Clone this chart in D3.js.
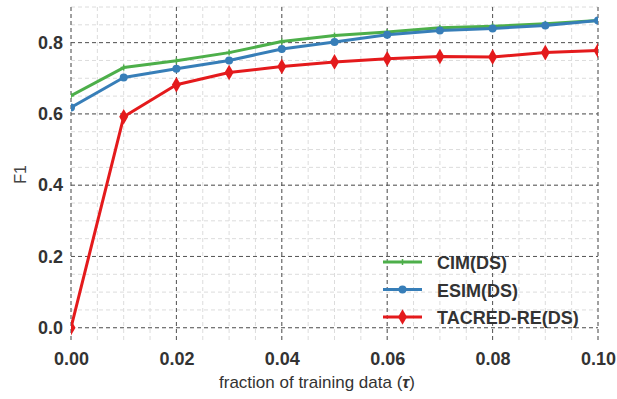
<!DOCTYPE html>
<html>
<head>
<meta charset="utf-8">
<script src="https://cdn.jsdelivr.net/npm/d3@7"></script>
<style>
  body { margin: 0; background: #fff; }
  text { font-family: "Liberation Sans", Arial, sans-serif; }
</style>
</head>
<body>
<svg id="chart" width="617" height="399"></svg>
<script>
const fractions = [0, 0.01, 0.02, 0.03, 0.04, 0.05, 0.06, 0.07, 0.08, 0.09, 0.10];
const cim = [0.651, 0.730, 0.749, 0.772, 0.803, 0.820, 0.830, 0.842, 0.846, 0.853, 0.862];
const esim = [0.618, 0.702, 0.727, 0.750, 0.782, 0.802, 0.822, 0.834, 0.840, 0.848, 0.862];
const tacred = [0.0, 0.592, 0.682, 0.716, 0.733, 0.746, 0.755, 0.761, 0.760, 0.772, 0.778];
const xTicks = [0, 0.02, 0.04, 0.06, 0.08, 0.10];
const yTicks = [0, 0.2, 0.4, 0.6, 0.8];

const series = [
  { name: 'CIM(DS)', values: cim, color: '#4daf4a', marker: 'plus' },
  { name: 'ESIM(DS)', values: esim, color: '#377eb8', marker: 'circle' },
  { name: 'TACRED-RE(DS)', values: tacred, color: '#e41a1c', marker: 'diamond' }
];

const margin = {top: 7, right: 19, bottom: 57, left: 71};
const width = 617 - margin.left - margin.right,
      height = 399 - margin.top - margin.bottom;

const x = d3.scaleLinear().domain([0, 0.10]).range([0, width]);
const y = d3.scaleLinear().domain([-0.04, 0.9]).range([height, 0]);

const svg = d3.select('#chart');
svg.append('defs').append('clipPath').attr('id', 'plotclip')
  .append('rect').attr('x', 0).attr('y', 0).attr('width', width).attr('height', height);
const chart = svg.append('g')
  .attr('transform', 'translate(' + margin.left + ',' + margin.top + ')');

// minor grid
const xMinor = d3.range(0, 0.1001, 0.005);
const yMinor = d3.range(0, 0.9001, 0.05);
chart.append('g').selectAll('line').data(xMinor).enter().append('line')
  .attr('x1', d => x(d)).attr('x2', d => x(d)).attr('y1', 0).attr('y2', height)
  .attr('stroke', '#dcdcdc').attr('stroke-width', 1).attr('stroke-dasharray', '4,3');
chart.append('g').selectAll('line').data(yMinor).enter().append('line')
  .attr('y1', d => y(d)).attr('y2', d => y(d)).attr('x1', 0).attr('x2', width)
  .attr('stroke', '#dcdcdc').attr('stroke-width', 1).attr('stroke-dasharray', '4,3');

// major grid
chart.append('g').selectAll('line').data(xTicks).enter().append('line')
  .attr('x1', d => x(d)).attr('x2', d => x(d)).attr('y1', 0).attr('y2', height)
  .attr('stroke', '#555').attr('stroke-width', 1).attr('stroke-dasharray', '4,3');
chart.append('g').selectAll('line').data(yTicks).enter().append('line')
  .attr('y1', d => y(d)).attr('y2', d => y(d)).attr('x1', 0).attr('x2', width)
  .attr('stroke', '#555').attr('stroke-width', 1).attr('stroke-dasharray', '4,3');

// axes (labels only)
const xAxis = d3.axisBottom(x).tickValues(xTicks).tickFormat(d3.format('.2f')).tickSize(0).tickPadding(10);
const yAxis = d3.axisLeft(y).tickValues(yTicks).tickFormat(d3.format('.1f')).tickSize(0).tickPadding(8);
chart.append('g').attr('transform', 'translate(0,' + height + ')').call(xAxis)
  .call(g => g.select('.domain').remove());
chart.append('g').call(yAxis).call(g => g.select('.domain').remove());
chart.selectAll('.tick text')
  .attr('fill', '#333').style('font-size', '18px').style('font-weight', 'bold');

// lines
const line = d3.line().x((d, i) => x(fractions[i])).y(d => y(d));
const diamond = d3.symbol().type(d3.symbolDiamond).size(70);

function drawMarker(g, type, color) {
  if (type === 'circle') {
    g.append('circle').attr('r', 4).attr('fill', color);
  } else if (type === 'diamond') {
    g.append('path').attr('d', diamond()).attr('fill', color);
  } else {
    g.append('path').attr('d', 'M-3,0H3M0,-3V3').attr('stroke', color).attr('stroke-width', 1.5);
  }
}

const plot = chart.append('g').attr('clip-path', 'url(#plotclip)');
series.forEach(s => {
  plot.append('path').datum(s.values)
    .attr('fill', 'none').attr('stroke', s.color).attr('stroke-width', 3)
    .attr('stroke-linejoin', 'round').attr('d', line);
  plot.append('g').selectAll('g').data(s.values).enter().append('g')
    .attr('transform', (d, i) => 'translate(' + x(fractions[i]) + ',' + y(d) + ')')
    .each(function() { drawMarker(d3.select(this), s.marker, s.color); });
});

// legend
const legend = chart.append('g').attr('transform', 'translate(312,255)');
series.forEach((s, i) => {
  const row = legend.append('g').attr('transform', 'translate(0,' + (i * 27.5) + ')');
  row.append('line').attr('x1', 0).attr('x2', 39).attr('y1', 0).attr('y2', 0)
    .attr('stroke', s.color).attr('stroke-width', 3);
  const m = row.append('g').attr('transform', 'translate(19.5,0)');
  drawMarker(m, s.marker, s.color);
  row.append('text').attr('x', 54).attr('y', 7).text(s.name)
    .attr('fill', '#333').style('font-size', '18px').style('font-weight', 'bold');
});

// axis titles
const xt = svg.append('text').attr('x', 317).attr('y', 388)
  .attr('text-anchor', 'middle').attr('fill', '#333').style('font-size', '17px');
xt.append('tspan').text('fraction of training data (');
xt.append('tspan').text('τ').style('font-weight', 'bold').style('font-style', 'italic');
xt.append('tspan').text(')');

svg.append('text').attr('transform', 'translate(26,' + (margin.top + height / 2) + ') rotate(-90)')
  .attr('text-anchor', 'middle').attr('fill', '#444').style('font-size', '16px').text('F1');
</script>
</body>
</html>
